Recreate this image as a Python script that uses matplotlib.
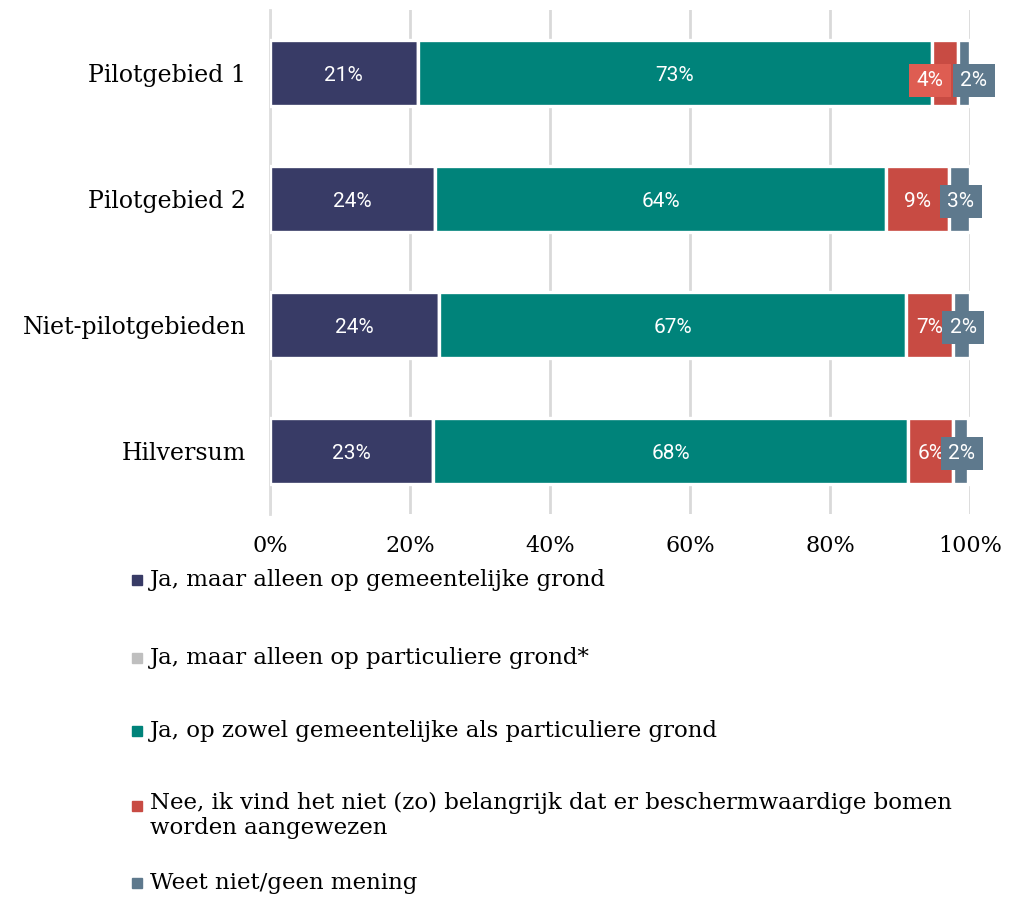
import numpy as np
import matplotlib
matplotlib.use('Agg')
import matplotlib.pyplot as plt
from matplotlib.patches import Rectangle

# data (percentages per area)
categories = ['Pilotgebied 1', 'Pilotgebied 2', 'Niet-pilotgebieden', 'Hilversum']
series_names = ['Ja, maar alleen op gemeentelijke grond',
                'Ja, maar alleen op particuliere grond*',
                'Ja, op zowel gemeentelijke als particuliere grond',
                'Nee, ik vind het niet (zo) belangrijk dat er beschermwaardige bomen\nworden aangewezen',
                'Weet niet/geen mening']
gemeentelijk = [21.1, 23.6, 24.1, 23.3]
particulier = [0, 0, 0, 0]
beide = [73.4, 64.4, 66.8, 67.9]
nee = [3.8, 9.0, 6.7, 6.4]
weet_niet = [1.7, 3.0, 2.4, 2.1]
xticks = [0, 20, 40, 60, 80, 100]

colors = ['#383B66', '#BFBFBF', '#00837A', '#C84B43', '#5E798D']
series = [gemeentelijk, particulier, beide, nee, weet_niet]

serif = 'DejaVu Serif'
sans = 'Roboto'

fig = plt.figure(figsize=(10.25, 8.99), dpi=100)
ax = fig.add_axes([270 / 1025, 1 - 514 / 899, 700 / 1025, 504 / 899])

y = np.arange(len(categories))
left = np.zeros(len(categories))
for vals, col in zip(series, colors):
    ax.barh(y, vals, left=left, height=0.53, color=col, edgecolor='white',
            linewidth=2.4, zorder=3)
    left = left + np.array(vals)

# data labels
def lab(x, yy, v, box=None):
    kw = dict(ha='center', va='center', color='white', fontsize=15,
              family=sans, zorder=5)
    if box:
        kw['bbox'] = dict(boxstyle='square,pad=0.35', fc=box, ec='none')
    ax.text(x, yy + 0.02, f'{round(v)}%', **kw)

for i in range(len(categories)):
    g, p, b, n, w = gemeentelijk[i], particulier[i], beide[i], nee[i], weet_niet[i]
    lab(g / 2, i, g)
    lab(g + p + b / 2, i, b)
    red_c = g + p + b + n / 2
    blue_c = g + p + b + n + w / 2
    if i == 0:
        # labels pushed apart where the segments are too narrow
        lab(red_c - 2.1, i + 0.04, n, box='#DE5D52')
        lab(blue_c + 1.4, i + 0.04, w, box=colors[4])
    else:
        lab(red_c, i, n)
        lab(blue_c + 0.2, i, w, box=colors[4])

ax.set_xlim(0, 100)
ax.set_ylim(3.5, -0.5)
ax.set_xticks(xticks)
ax.set_xticklabels([f'{t}%' for t in xticks], family=serif, fontsize=16)
ax.set_yticks(y)
ax.set_yticklabels(categories, family=serif, fontsize=17)
ax.tick_params(length=0, pad=17, axis='y')
ax.tick_params(length=0, pad=15, axis='x')
for s in ['top', 'right', 'bottom']:
    ax.spines[s].set_visible(False)
ax.spines['left'].set_color('#DDDDDD')
ax.spines['left'].set_linewidth(2)
ax.grid(axis='x', color='#D9D9D9', linewidth=2, zorder=0)
ax.set_axisbelow(True)

# legend drawn by hand
leg_y = [580, 658, 731, 806, 883]
for name, col, ly in zip(series_names, colors, leg_y):
    fig.patches.append(Rectangle((132 / 1025, 1 - (ly + 5) / 899), 10 / 1025, 10 / 899,
                                 transform=fig.transFigure, color=col))
    if '\n' in name:
        fig.text(150 / 1025, 1 - (ly - 14) / 899, name, family=serif, fontsize=16.5,
                 va='top', linespacing=1.2)
    else:
        fig.text(150 / 1025, 1 - ly / 899, name, family=serif, fontsize=16.5, va='center')

fig.savefig('out.png', dpi=100)
